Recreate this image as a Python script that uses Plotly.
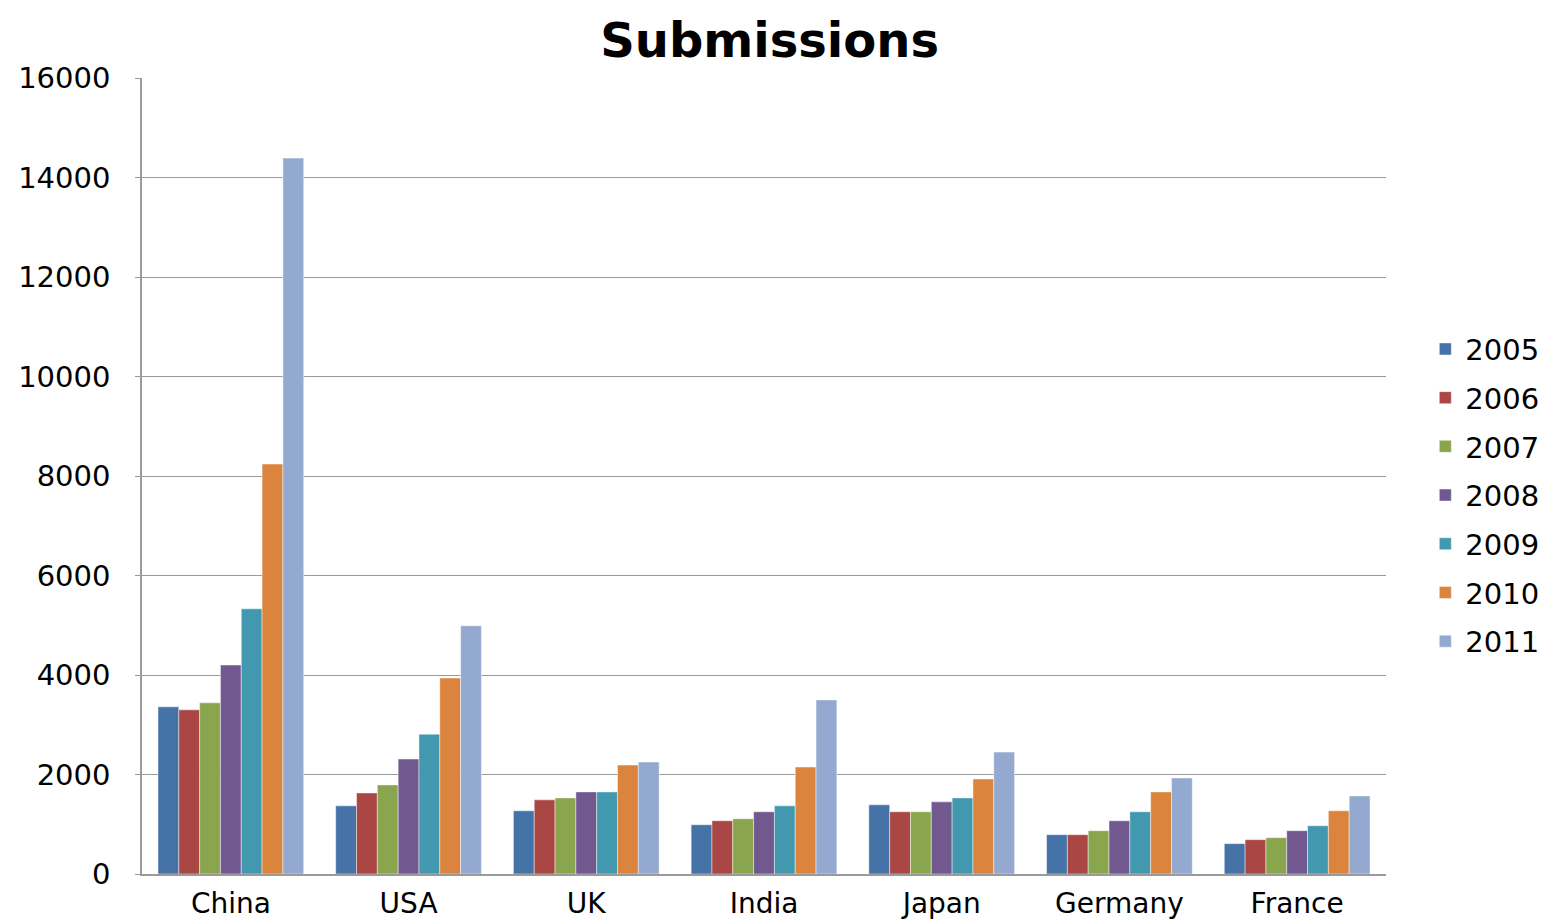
import plotly.graph_objects as go

countries = ["China", "USA", "UK", "India", "Japan", "Germany", "France"]
years = ["2005", "2006", "2007", "2008", "2009", "2010", "2011"]
values = {
    "2005": [3360, 1370, 1270, 990, 1390, 790, 610],
    "2006": [3300, 1630, 1490, 1070, 1250, 790, 690],
    "2007": [3440, 1790, 1530, 1110, 1250, 870, 730],
    "2008": [4200, 2310, 1650, 1250, 1450, 1070, 870],
    "2009": [5330, 2810, 1650, 1370, 1530, 1250, 970],
    "2010": [8240, 3940, 2190, 2150, 1910, 1650, 1270],
    "2011": [14390, 4990, 2250, 3500, 2450, 1930, 1570],
}
colors = ["#4572A7", "#AA4643", "#89A54E", "#71588F", "#4198AF", "#DB843D", "#93A9CF"]

fig = go.Figure()
for y, c in zip(years, colors):
    fig.add_trace(go.Bar(
        x=countries, y=values[y], name=y, legendgroup=y,
        marker=dict(color=c, line=dict(color="rgba(255,255,255,0.45)", width=1)),
    ))

font = "DejaVu Sans, Liberation Sans, sans-serif"
fig.update_layout(
    width=1548, height=915,
    margin=dict(l=134, r=158, t=70, b=49),
    paper_bgcolor="white", plot_bgcolor="white",
    barmode="group", bargap=0.18, bargroupgap=0,
    title=dict(text="<b>Submissions</b>", x=0.492, xanchor="center", y=0.965, yanchor="middle",
               font=dict(family=font, size=48, color="black")),
    font=dict(family=font, color="black"),
    showlegend=True,
    legend=dict(x=1.0316, xanchor="left", y=0.476, yanchor="middle",
                font=dict(family=font, size=29, color="black"),
                tracegroupgap=8, bgcolor="rgba(0,0,0,0)"),
    xaxis=dict(showgrid=False, showline=True, linecolor="#9a9a9a", linewidth=1.5,
               tickfont=dict(family=font, size=28, color="black"),
               ticks="", ticklabelstandoff=4, automargin=False),
    yaxis=dict(range=[0, 16000], dtick=2000, tickformat="d",
               showgrid=True, gridcolor="#9a9a9a", gridwidth=1.2,
               showline=True, linecolor="#9a9a9a", linewidth=1.5,
               ticks="outside", ticklen=5, tickcolor="#9a9a9a",
               tickfont=dict(family=font, size=29, color="black"),
               zeroline=False, ticklabelstandoff=19, automargin=False),
)
fig.write_html("out.html")
